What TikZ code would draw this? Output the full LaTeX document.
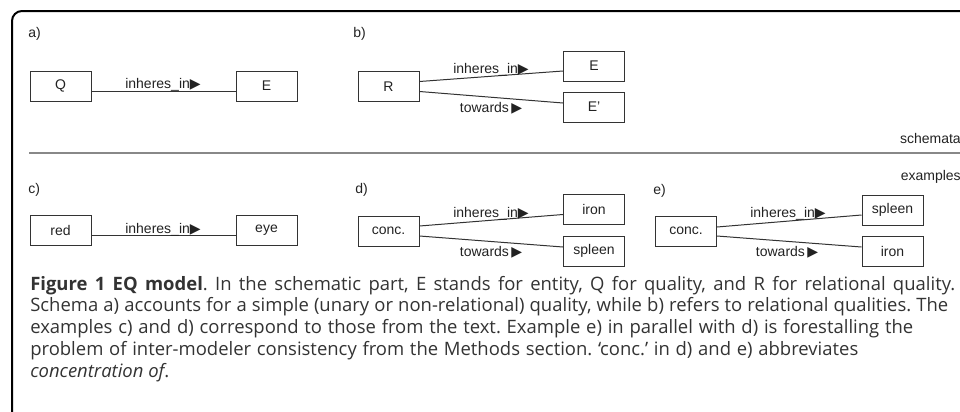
\documentclass[tikz,border=0pt]{standalone}
\usepackage{fontspec}
\setmainfont{Liberation Sans}
\newfontfamily\capfont{Open Sans}
\newfontfamily\symfont{DejaVu Sans}
\usetikzlibrary{calc}
\definecolor{ink}{HTML}{222222}
\definecolor{boxline}{HTML}{333333}
\definecolor{captxt}{HTML}{333333}
\definecolor{sepgray}{HTML}{888888}
\frenchspacing
\newcommand{\tri}{{\symfont\fontsize{10.5pt}{10.5pt}\selectfont ▶}}
\newcommand{\capfit}[2]{\makebox[#1][s]{#2}}
\begin{document}
\begin{tikzpicture}[x=0.75pt,y=-0.75pt,
  box/.style={draw=boxline, line width=0.75pt, minimum width=45.75pt, minimum height=22.5pt, inner sep=0pt, font=\fontsize{10.5pt}{12pt}\selectfont, text=ink},
  conn/.style={draw=boxline, line width=0.75pt},
  lbl/.style={anchor=base, inner sep=0pt, font=\fontsize{10.5pt}{12pt}\selectfont, text=ink},
  tag/.style={anchor=base west, inner sep=0pt, font=\fontsize{10.5pt}{12pt}\selectfont, text=ink},
  side/.style={anchor=base east, inner sep=0pt, font=\fontsize{10.5pt}{12pt}\selectfont, text=ink},
  capline/.style={anchor=base west, inner sep=0pt, font=\capfont\frenchspacing\fontsize{13.85pt}{16pt}\selectfont, text=captxt}]
\useasboundingbox (0,0) rectangle (960,411);
% frame
\draw[line width=1.5pt, rounded corners=7.5pt] (12,420) -- (12,11) -- (970,11);
\draw[sepgray, line width=1.5pt] (29,153) -- (970,153);
% a)
\node[tag] (ta) at (28,37) {a)};
\node[box] (Q) at (60.5,86) {Q};
\node[box] (E1) at (266.5,86) {E};
\draw[conn] ($(Q.east)+(0,5)$) -- ($(E1.west)+(0,5)$);
\node[lbl] (la) at (163,88) {inheres\_in\tri};
% b)
\node[tag] (tb) at (353,37) {b)};
\node[box] (R) at (388.5,86.5) {R};
\node[box] (E2) at (594,66) {E};
\node[box] (E3) at (594,107) {E'};
\draw[conn] ($(R.east)+(0,-5)$) -- ($(E2.west)+(0,5)$);
\draw[conn] ($(R.east)+(0,5)$) -- ($(E3.west)+(0,-4)$);
\node[lbl] (lb1) at (491,73) {inheres\_in\tri};
\node[lbl] (lb2) at (491,112) {towards\,\tri};
\node[side] (sch) at (961,143) {schemata};
\node[side] (ex) at (961,180) {examples};
% c)
\node[tag] (tc) at (28,193) {c)};
\node[box] (red) at (60.5,230.5) {red};
\node[box] (eye) at (266.5,230.5) {eye};
\draw[conn] ($(red.east)+(0,5)$) -- ($(eye.west)+(0,5)$);
\node[lbl] (lc) at (163,233) {inheres\_in\tri};
% d)
\node[tag] (td) at (355,193) {d)};
\node[box] (cd) at (388.5,231) {conc.};
\node[box] (irond) at (594,209.5) {iron};
\node[box] (spleend) at (594,251) {spleen};
\draw[conn] ($(cd.east)+(0,-5)$) -- ($(irond.west)+(0,5)$);
\draw[conn] ($(cd.east)+(0,5)$) -- ($(spleend.west)+(0,-4)$);
\node[lbl] (ld1) at (491,217) {inheres\_in\tri};
\node[lbl] (ld2) at (491,256) {towards\,\tri};
% e)
\node[tag] (te) at (653,194) {e)};
\node[box] (ce) at (686,231) {conc.};
\node[box] (spleene) at (892.5,210) {spleen};
\node[box] (irone) at (892.5,251.5) {iron};
\draw[conn] ($(ce.east)+(0,-4)$) -- ($(spleene.west)+(0,5)$);
\draw[conn] ($(ce.east)+(0,5)$) -- ($(irone.west)+(0,-4.5)$);
\node[lbl] (le1) at (788,217) {inheres\_in\tri};
\node[lbl] (le2) at (787,256) {towards\,\tri};
% caption
\node[capline] (c1) at (30,290) {\capfit{693.75pt}{\textbf{Figure 1 EQ model}. In the schematic part, E stands for entity, Q for quality, and R for relational quality.}};
\node[capline] (c2) at (30,311.8) {\capfit{688.5pt}{Schema a) accounts for a simple (unary or non-relational) quality, while b) refers to relational qualities. The}};
\node[capline] (c3) at (30,333.6) {\capfit{662.25pt}{examples c) and d) correspond to those from the text. Example e) in parallel with d) is forestalling the}};
\node[capline] (c4) at (30,355.4) {\capfit{621pt}{problem of inter-modeler consistency from the Methods section. ‘conc.’ in d) and e) abbreviates}};
\node[capline] (c5) at (30,377.2) {\textit{concentration of}.};
\end{tikzpicture}
\end{document}
